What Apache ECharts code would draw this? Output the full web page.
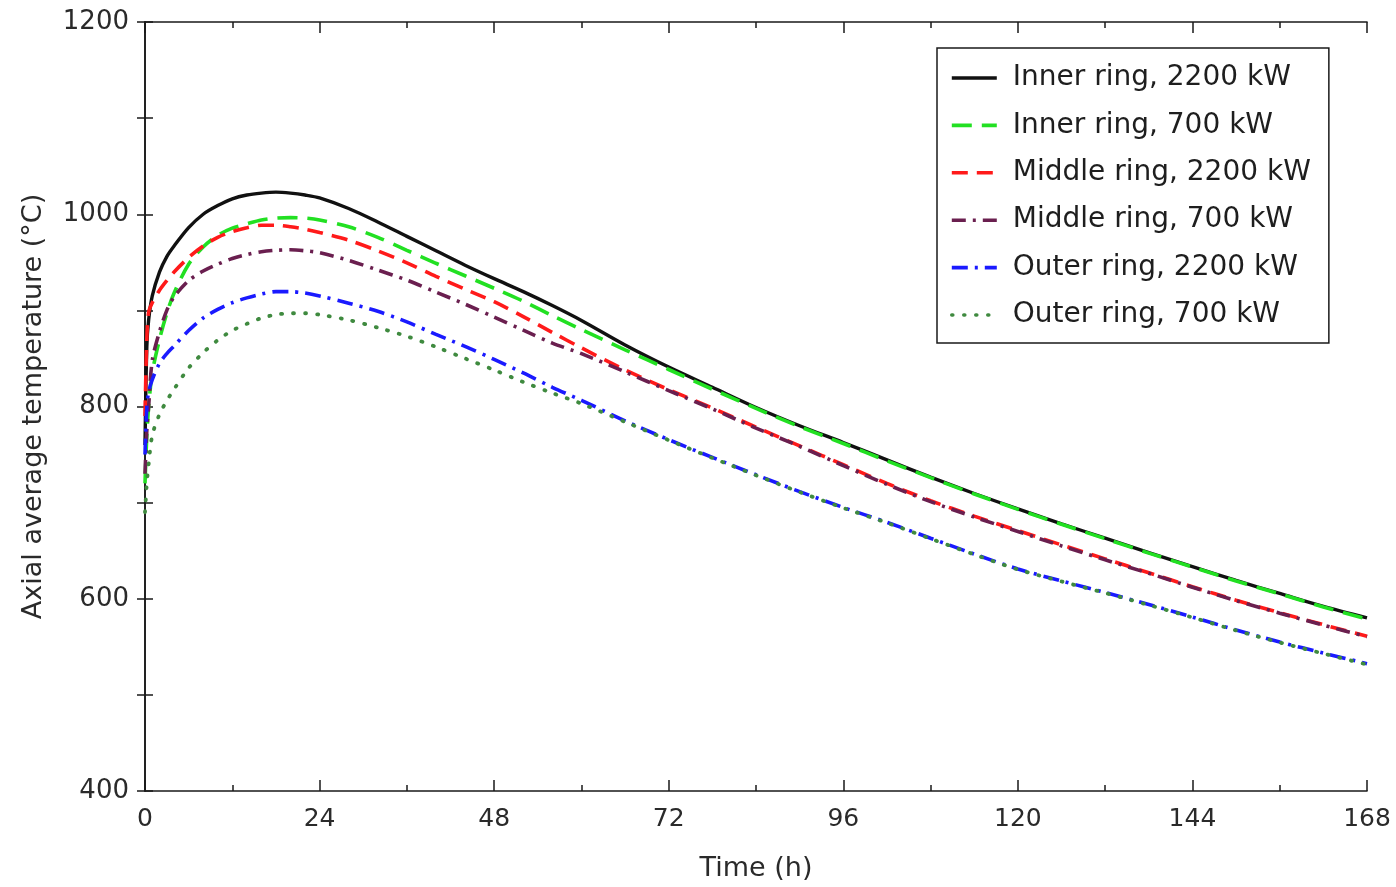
<!DOCTYPE html>
<html>
<head>
<meta charset="utf-8">
<script src="https://cdn.jsdelivr.net/npm/echarts@6/dist/echarts.min.js"></script>
<style>
html,body{margin:0;padding:0;background:#fff;}
#chart{width:1396px;height:887px;}
</style>
</head>
<body>
<div id="chart"></div>
<script>
// Time (h)
var timeH = [0, 0.25, 0.5, 1, 2, 3, 4, 6, 8, 10, 12, 14, 16, 18, 20, 22, 24, 28, 32, 36, 40, 44, 48, 52, 56, 60, 66, 72, 78, 84, 90, 96, 102, 108, 114, 120, 126, 132, 138, 144, 150, 156, 162, 168];

var innerRing2200 = [760, 862, 890, 915, 940, 956, 967, 986, 1000, 1009, 1016, 1020, 1022, 1023, 1022, 1020, 1017, 1006, 992, 977, 962, 947, 933, 919.5, 905, 889.5, 864, 841, 820, 799, 780, 762.5, 744.5, 726.5, 709.5, 693.5, 678, 663, 648, 633.5, 619, 605.5, 592, 580];
var innerRing700 = [720, 770, 800, 835, 870, 897, 918, 948, 966, 978, 985.5, 990, 994, 996, 996.5, 996, 994, 987, 976, 962.5, 949, 936, 923, 909.5, 894.5, 880, 859, 838.5, 818, 798, 779, 761.5, 743.5, 726, 709, 693, 677.5, 662.5, 647.5, 633, 618.5, 605, 591.5, 579];
var middleRing2200 = [790, 870, 898, 908, 921, 931, 940, 955, 967, 976, 982, 986, 988.5, 988.5, 987, 984.5, 981, 973, 962, 949.5, 935.4, 922, 909, 893.5, 877, 861, 838, 817.5, 798.5, 778.5, 759, 739.5, 720, 702, 686, 671, 656, 641.5, 627, 612.5, 598.5, 585.5, 573, 561];
var middleRing700 = [730, 775, 800, 848, 878, 900, 914, 931, 941, 948, 954, 958, 961, 962.5, 963, 962, 960, 952, 942, 931.5, 919, 906.5, 893, 879.5, 866, 855, 836, 816.5, 797.5, 777.5, 758.5, 738.5, 719, 701, 685, 670, 655, 640.5, 626.5, 612, 598, 585, 572.5, 560.5];
var outerRing2200 = [750, 800, 815, 828, 845, 855, 863, 879, 892, 901, 908, 913, 917, 919.5, 919.5, 918, 915, 907.5, 899, 888, 875, 862.5, 849, 835, 820, 806.5, 785, 765.5, 747, 729, 711.5, 695, 679.5, 663, 646.5, 631, 618.5, 606.5, 594, 581, 567.5, 555, 543.5, 532.5];
var outerRing700 = [690, 720, 740, 770, 792, 806, 818, 840, 856, 869, 879, 886, 892, 895.5, 897, 897, 895.5, 890, 882, 873, 862, 850, 838, 825.5, 814, 803, 784, 765, 746.5, 728.5, 711, 694.5, 679, 662.5, 646, 630.5, 618, 606, 593.5, 580.5, 567, 554.5, 543, 531.5];

var seriesNames = ['Inner ring, 2200 kW', 'Inner ring, 700 kW', 'Middle ring, 2200 kW', 'Middle ring, 700 kW', 'Outer ring, 2200 kW', 'Outer ring, 700 kW'];
var seriesValues = [innerRing2200, innerRing700, middleRing2200, middleRing700, outerRing2200, outerRing700];

var xTicks = [0, 24, 48, 72, 96, 120, 144, 168];
var yLabels = [400, 600, 800, 1000, 1200];

var styles = [
  {color: '#111111', type: 'solid', width: 3.4, cap: 'butt'},
  {color: '#22e022', type: [20, 10], width: 3.6, cap: 'butt'},
  {color: '#ff1a1a', type: [16, 9], width: 3.6, cap: 'butt'},
  {color: '#6a1f4f', type: [14, 7, 3, 7], width: 3.6, cap: 'butt'},
  {color: '#1a1aff', type: [16, 7, 3, 7], width: 3.6, cap: 'butt'},
  {color: '#3f8a3f', type: [1, 11], width: 3.8, cap: 'round'}
];

function zip(ts, vs) { return ts.map(function (t, i) { return [t, vs[i]]; }); }

var FONT = 'DejaVu Sans';
var chart = echarts.init(document.getElementById('chart'), null, {renderer: 'canvas'});

var series = seriesNames.map(function (name, i) {
  return {
    name: name,
    type: 'line',
    data: zip(timeH, seriesValues[i]),
    showSymbol: false,
    symbol: 'none',
    smooth: 0.3,
    animation: false,
    z: 2 + i,
    lineStyle: styles[i],
    itemStyle: {color: styles[i].color}
  };
});

var axisLineStyle = {color: '#1a1a1a', width: 1.6};

chart.setOption({
  animation: false,
  backgroundColor: '#ffffff',
  grid: {left: 145, right: 29, top: 22, bottom: 95, containLabel: false},
  legend: {
    show: true,
    orient: 'vertical',
    left: 937,
    top: 48,
    padding: [15, 18, 13, 13],
    itemGap: 17.4,
    itemWidth: 45,
    itemHeight: 14,
    itemStyle: {opacity: 0},
    lineStyle: {width: 3.6},
    backgroundColor: '#ffffff',
    borderColor: '#1a1a1a',
    borderWidth: 1.5,
    borderRadius: 0,
    textStyle: {fontFamily: FONT, fontSize: 28, color: '#1e1e1e', lineHeight: 30, padding: [0, 0, 0, 11]},
    data: seriesNames
  },
  xAxis: [
    {
      type: 'value', min: 0, max: 168, interval: 24, position: 'bottom',
      name: 'Time (h)', nameLocation: 'middle', nameGap: 64,
      nameTextStyle: {fontFamily: FONT, fontSize: 27, color: '#2a2a2a'},
      axisLine: {show: true, lineStyle: axisLineStyle},
      axisTick: {show: true, inside: true, length: 11, lineStyle: {color: '#1a1a1a', width: 1.5}},
      minorTick: {show: true, splitNumber: 2, length: 6, lineStyle: {color: '#1a1a1a', width: 1.5}},
      axisLabel: {fontFamily: FONT, fontSize: 25, color: '#2a2a2a', margin: 16},
      splitLine: {show: false}
    },
    {
      type: 'value', min: 0, max: 168, interval: 24, position: 'top',
      axisLine: {show: true, lineStyle: axisLineStyle},
      axisTick: {show: true, inside: true, length: 11, lineStyle: {color: '#1a1a1a', width: 1.5}},
      minorTick: {show: true, splitNumber: 2, length: 6, lineStyle: {color: '#1a1a1a', width: 1.5}},
      axisLabel: {show: false},
      splitLine: {show: false}
    }
  ],
  yAxis: [
    {
      type: 'value', min: 400, max: 1200, interval: 100, position: 'left',
      name: 'Axial average temperature (°C)', nameLocation: 'middle', nameGap: 98,
      nameTextStyle: {fontFamily: FONT, fontSize: 27, color: '#2a2a2a'},
      axisLine: {show: true, lineStyle: axisLineStyle},
      axisTick: {show: true, inside: true, length: 8, lineStyle: {color: '#1a1a1a', width: 1.5}},
      axisLabel: {
        fontFamily: FONT, fontSize: 26, color: '#2a2a2a', margin: 16,
        formatter: function (v) { return yLabels.indexOf(v) >= 0 ? String(v) : ''; }
      },
      splitLine: {show: false}
    },
    {
      type: 'value', min: 400, max: 1200, interval: 100, position: 'right',
      axisLine: {show: true, lineStyle: axisLineStyle},
      axisTick: {show: true, inside: true, length: 8, lineStyle: {color: '#1a1a1a', width: 1.5}},
      axisLabel: {show: false},
      splitLine: {show: false}
    }
  ],
  series: series
});
</script>
</body>
</html>
